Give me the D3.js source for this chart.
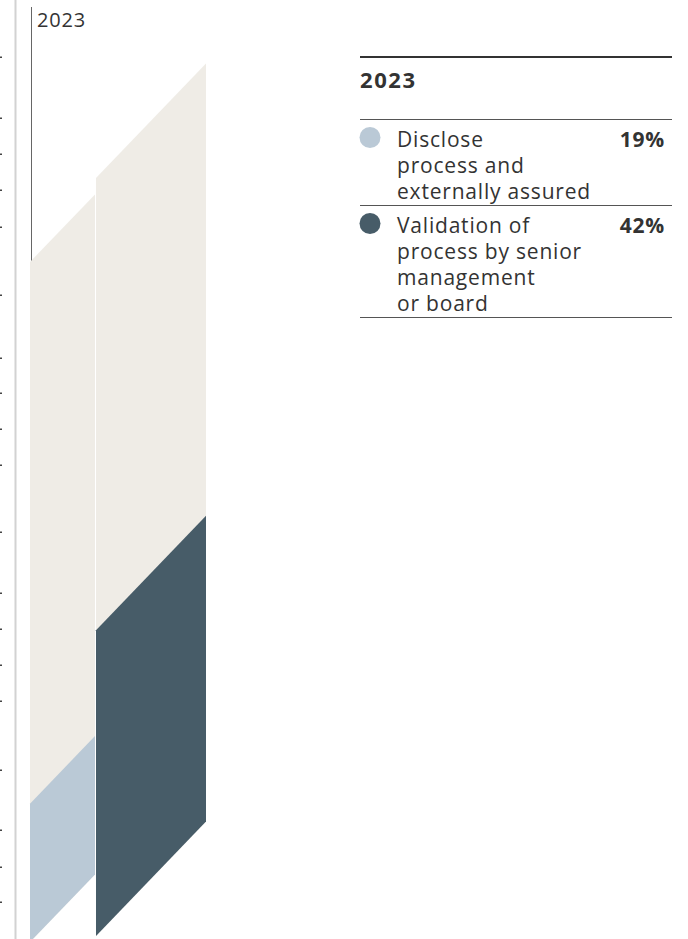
<!DOCTYPE html>
<html>
<head>
<meta charset="utf-8">
<script src="https://cdn.jsdelivr.net/npm/d3@7"></script>
<style>
  html, body { margin: 0; padding: 0; background: #fff; }
  svg { display: block; }
  text { font-family: "Open Sans", sans-serif; fill: #333; }
</style>
</head>
<body>
<div id="chart"></div>
<script>
// data
let year = '2023';
let categories = ['Disclose process and externally assured', 'Validation of process by senior management or board'];
let labelLines = [
  ['Disclose', 'process and', 'externally assured'],
  ['Validation of', 'process by senior', 'management', 'or board']
];
let values = [19, 42];
let colors = ['#bac9d6', '#475c68'];
// little marks left over on the cropped left edge
let edgeTicks = [57, 118, 154, 190, 227, 295, 358, 393, 429, 465, 532, 593, 629, 665, 701, 770, 830, 867, 902];

// layout
let config = { width: 688, height: 939 };
config.bars = [
  { x: 30, w: 65, base: 942, top: 262 },
  { x: 96, w: 110, base: 936, top: 178 }
];
config.slope = 1.04;      // rise per px of width (skewed bars)
config.track = '#efece6';
config.legend = { x: 360, right: 672, valueX: 665, lineH: 26 };

let svg = d3.select('#chart').append('svg')
  .attr('width', config.width)
  .attr('height', config.height);

// value scale: percent -> px length along the bar
let len = d3.scaleLinear().domain([0, 100]).range([0, 728]);

function skew(b, l) {
  let k = b.w * config.slope;
  return [[b.x, b.base], [b.x + b.w, b.base - k], [b.x + b.w, b.base - k - l], [b.x, b.base - l]];
}
let line = d3.line();

// left edge of the page
svg.append('line')
  .attr('x1', 15.5).attr('x2', 15.5).attr('y1', 0).attr('y2', config.height)
  .attr('stroke', '#d2d2d2').attr('stroke-width', 2);
svg.selectAll('.edgeTick')
  .data(edgeTicks).enter()
  .append('rect')
  .attr('class', 'edgeTick')
  .attr('x', 0).attr('y', d => d - 0.5)
  .attr('width', 2).attr('height', 1.5)
  .attr('fill', '#444');

// year label + leader line
svg.append('line')
  .attr('x1', 31.5).attr('x2', 31.5).attr('y1', 7).attr('y2', config.bars[0].top)
  .attr('stroke', '#666').attr('stroke-width', 1);
svg.append('text')
  .attr('x', 37).attr('y', 27)
  .style('font-size', '20px').style('letter-spacing', '0.8px')
  .text(year);

// tracks
svg.selectAll('.track')
  .data(config.bars).enter()
  .append('path')
  .attr('class', 'track')
  .attr('d', b => line(skew(b, b.base - b.top)) + 'Z')
  .attr('fill', config.track);

// value bars
svg.selectAll('.bar')
  .data(values).enter()
  .append('path')
  .attr('class', 'bar')
  .attr('d', (d, i) => line(skew(config.bars[i], len(d))) + 'Z')
  .attr('fill', (d, i) => colors[i]);

// legend
let lg = svg.append('g');
let L = config.legend;
function rule(y, w, c) {
  lg.append('line')
    .attr('x1', L.x).attr('x2', L.right).attr('y1', y).attr('y2', y)
    .attr('stroke', c).attr('stroke-width', w);
}
rule(57, 2, '#333');
lg.append('text')
  .attr('x', L.x).attr('y', 88)
  .style('font-size', '22px').style('font-weight', 700)
  .style('letter-spacing', '1.6px')
  .text(year);
rule(119.5, 1, '#555');

let rowTop = 119.5;
categories.forEach(function(c, i) {
  let lines = labelLines[i];
  lg.append('circle')
    .attr('cx', 370).attr('cy', rowTop + 18).attr('r', 10.5)
    .attr('fill', colors[i]);
  let t = lg.append('text')
    .attr('x', 397).attr('y', rowTop + 27)
    .style('font-size', '21px').style('font-weight', 400)
    .style('letter-spacing', '0.8px');
  lines.forEach((s, j) => {
    t.append('tspan').attr('x', 397).attr('dy', j ? L.lineH : 0).text(s);
  });
  lg.append('text')
    .attr('x', L.valueX).attr('y', rowTop + 27)
    .attr('text-anchor', 'end')
    .style('font-size', '21px').style('font-weight', 700)
    .style('letter-spacing', '0.8px')
    .text(values[i] + '%');
  rowTop = rowTop + lines.length * L.lineH + 8;
  rule(rowTop, 1, '#555');
});
</script>
</body>
</html>
